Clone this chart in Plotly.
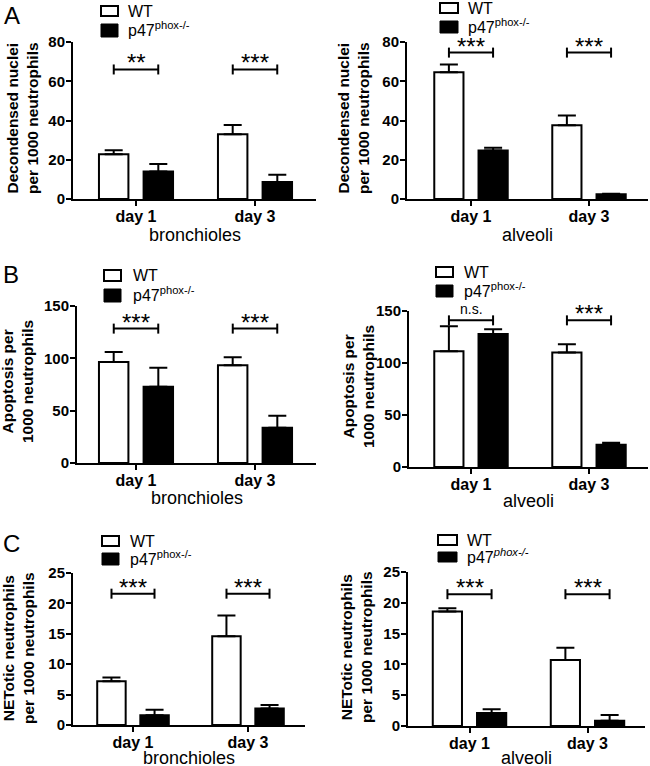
import plotly.graph_objects as go

W, H = 650, 766
FONT = "Liberation Sans, Arial, Helvetica, sans-serif"

# ---------------- data ----------------
categories = ["day 1", "day 3"]
series_names = ["WT", "p47<sup>phox-/-</sup>"]

# A: decondensed nuclei per 1000 neutrophils
a_bronch_wt = [22.8, 33.0]
a_bronch_wt_err = [2.1, 4.7]
a_bronch_ko = [14.0, 8.6]
a_bronch_ko_err = [3.8, 3.7]
a_alv_wt = [64.6, 37.6]
a_alv_wt_err = [3.9, 4.9]
a_alv_ko = [24.7, 2.4]
a_alv_ko_err = [1.4, 0.3]

# B: apoptosis per 1000 neutrophils
b_bronch_wt = [96.6, 93.4]
b_bronch_wt_err = [9.5, 7.6]
b_bronch_ko = [72.8, 33.7]
b_bronch_ko_err = [18.1, 11.4]
b_alv_wt = [111.4, 110.1]
b_alv_wt_err = [23.9, 8.0]
b_alv_ko = [128.0, 21.4]
b_alv_ko_err = [4.5, 1.9]

# C: NETotic neutrophils per 1000 neutrophils
c_bronch_wt = [7.2, 14.6]
c_bronch_wt_err = [0.6, 3.4]
c_bronch_ko = [1.6, 2.7]
c_bronch_ko_err = [0.9, 0.6]
c_alv_wt = [18.6, 10.7]
c_alv_wt_err = [0.5, 2.0]
c_alv_ko = [2.1, 0.87]
c_alv_ko_err = [0.6, 0.9]

# significance labels and bracket heights
a_bronch_sig = ["**", "***"]
a_bronch_sig_y = [66, 66]
a_alv_sig = ["***", "***"]
a_alv_sig_y = [74.6, 74.6]
b_bronch_sig = ["***", "***"]
b_bronch_sig_y = [128.4, 128.4]
b_alv_sig = ["n.s.", "***"]
b_alv_sig_y = [141, 141]
c_bronch_sig = ["***", "***"]
c_bronch_sig_y = [21.6, 21.6]
c_alv_sig = ["***", "***"]
c_alv_sig_y = [21.4, 21.4]

y_titles = {
    "A": "Decondensed nuclei<br>per 1000 neutrophils",
    "B": "Apoptosis per<br>1000 neutrophils",
    "C": "NETotic neutrophils<br>per 1000 neutrophils",
}
region_titles = ["bronchioles", "alveoli"]

# ---------------- layout geometry (pixels) ----------------
panels = [
    dict(wt=a_bronch_wt, wte=a_bronch_wt_err, ko=a_bronch_ko, koe=a_bronch_ko_err,
         sig=a_bronch_sig, sigy=a_bronch_sig_y, ymax=80, dtick=20, ytitle=y_titles["A"],
         region=region_titles[0], box=(73, 316, 42, 199), cats=(136, 255),
         ytx=22, yty=118, xty=235, leg=(101, 118, 6, 16, 24, 37, 126), letter="A", letpos=(12, 15),
         italic=False),
    dict(wt=a_alv_wt, wte=a_alv_wt_err, ko=a_alv_ko, koe=a_alv_ko_err,
         sig=a_alv_sig, sigy=a_alv_sig_y, ymax=80, dtick=20, ytitle=y_titles["A"],
         region=region_titles[1], box=(407, 648, 42, 199), cats=(471, 589),
         ytx=353, yty=118, xty=235, leg=(440, 458, 3, 13, 21, 33, 466), letter=None, letpos=None,
         italic=False),
    dict(wt=b_bronch_wt, wte=b_bronch_wt_err, ko=b_bronch_ko, koe=b_bronch_ko_err,
         sig=b_bronch_sig, sigy=b_bronch_sig_y, ymax=150, dtick=50, ytitle=y_titles["B"],
         region=region_titles[0], box=(77, 316, 306, 463), cats=(136, 255),
         ytx=18, yty=382, xty=498, leg=(104, 121, 270, 281, 289, 302, 131), letter="B", letpos=(11, 274),
         italic=False),
    dict(wt=b_alv_wt, wte=b_alv_wt_err, ko=b_alv_ko, koe=b_alv_ko_err,
         sig=b_alv_sig, sigy=b_alv_sig_y, ymax=150, dtick=50, ytitle=y_titles["B"],
         region=region_titles[1], box=(409, 648, 311, 467), cats=(471, 589),
         ytx=358, yty=387, xty=501, leg=(436, 453, 267, 277, 285, 297, 462), letter=None, letpos=None,
         italic=False),
    dict(wt=c_bronch_wt, wte=c_bronch_wt_err, ko=c_bronch_ko, koe=c_bronch_ko_err,
         sig=c_bronch_sig, sigy=c_bronch_sig_y, ymax=25, dtick=5, ytitle=y_titles["C"],
         region=region_titles[0], box=(73, 305, 573, 725), cats=(133, 248),
         ytx=18, yty=648, xty=758, leg=(102, 119, 536, 546, 553, 565, 128), letter="C", letpos=(11, 543),
         italic=False),
    dict(wt=c_alv_wt, wte=c_alv_wt_err, ko=c_alv_ko, koe=c_alv_ko_err,
         sig=c_alv_sig, sigy=c_alv_sig_y, ymax=25, dtick=5, ytitle=y_titles["C"],
         region=region_titles[1], box=(408, 645, 572, 726), cats=(469.5, 587.5),
         ytx=356, yty=647, xty=758, leg=(438, 457, 535, 545, 552, 562, 465), letter=None, letpos=None,
         italic=True),
]

BAR_HALF_OFFSET = 0.187  # half slot width in category units (bargap/bargroupgap below)


def px_x(p):
    return p / W


def px_y(p):
    return 1 - p / H


fig = go.Figure()
shapes = []
annotations = []
layout_axes = {}

for i, p in enumerate(panels, start=1):
    xa, ya = f"x{i}", f"y{i}"
    x0, x1, y0, y1 = p["box"]
    c1, c3 = p["cats"]
    spacing = c3 - c1
    xr = [-(c1 - x0) / spacing, 1 + (x1 - c3) / spacing]

    fig.add_trace(go.Bar(
        x=categories, y=p["wt"], xaxis=xa, yaxis=ya, name=series_names[0],
        marker=dict(color="white", line=dict(color="black", width=2)),
        error_y=dict(type="data", symmetric=False, array=p["wte"], arrayminus=[0, 0],
                     color="black", thickness=2, width=9),
        showlegend=False, hoverinfo="skip",
    ))
    fig.add_trace(go.Bar(
        x=categories, y=p["ko"], xaxis=xa, yaxis=ya, name=series_names[1],
        marker=dict(color="black", line=dict(color="black", width=2)),
        error_y=dict(type="data", symmetric=False, array=p["koe"], arrayminus=[0, 0],
                     color="black", thickness=2, width=9),
        showlegend=False, hoverinfo="skip",
    ))

    sfx = "" if i == 1 else str(i)
    layout_axes[f"xaxis{sfx}"] = dict(
        domain=[px_x(x0), px_x(x1)], range=xr, autorange=False, type="category", anchor=ya,
        showline=True, linecolor="black", linewidth=2, ticks="outside", ticklen=5,
        tickwidth=2, tickcolor="black", showgrid=False, zeroline=False, automargin=False,
        tickfont=dict(family=FONT, size=16, color="black", weight="bold"),
        ticklabelstandoff=-3,
        fixedrange=True,
    )
    layout_axes[f"yaxis{sfx}"] = dict(
        domain=[px_y(y1), px_y(y0)], range=[0, p["ymax"]], autorange=False, dtick=p["dtick"],
        anchor=xa, automargin=False,
        showline=True, linecolor="black", linewidth=2, ticks="outside", ticklen=5,
        tickwidth=2, tickcolor="black", showgrid=False, zeroline=False,
        tickfont=dict(family=FONT, size=15, color="black", weight="bold"),
        ticklabelstandoff=-2,
        fixedrange=True,
    )

    # significance brackets
    for k, (lab, hy) in enumerate(zip(p["sig"], p["sigy"])):
        xl, xr_ = k - BAR_HALF_OFFSET, k + BAR_HALF_OFFSET
        shapes.append(dict(type="line", xref=xa, yref=ya, x0=xl, x1=xr_, y0=hy, y1=hy,
                           line=dict(color="black", width=2)))
        for xx in (xl, xr_):
            shapes.append(dict(type="line", xref=xa, yref=ya, x0=xx, x1=xx,
                               ysizemode="pixel", yanchor=hy, y0=-5, y1=5,
                               line=dict(color="black", width=2)))
        if lab == "n.s.":
            annotations.append(dict(xref=xa, yref=ya, x=k, y=hy, yshift=1, yanchor="bottom",
                                    text=lab, showarrow=False,
                                    font=dict(family=FONT, size=14, color="black")))
        else:
            annotations.append(dict(xref=xa, yref=ya, x=k, y=hy, yshift=-9, yanchor="bottom",
                                    text=lab, showarrow=False,
                                    font=dict(family=FONT, size=24, color="black")))

    # y title
    annotations.append(dict(xref="paper", yref="paper", x=px_x(p["ytx"]), y=px_y(p["yty"]),
                            xanchor="center", yanchor="middle", textangle=-90,
                            text=f"<b>{p['ytitle']}</b>", showarrow=False,
                            font=dict(family=FONT, size=15.5, color="black")))
    # x title (region)
    annotations.append(dict(xref="paper", yref="paper", x=px_x((x0 + x1) / 2), y=px_y(p["xty"]),
                            xanchor="center", yanchor="middle", text=p["region"], showarrow=False,
                            font=dict(family=FONT, size=18, color="black")))

    # manual legend
    lx0, lx1, wy0, wy1, by0, by1, tx = p["leg"]
    shapes.append(dict(type="rect", xref="paper", yref="paper", x0=px_x(lx0), x1=px_x(lx1),
                       y0=px_y(wy1), y1=px_y(wy0), fillcolor="white",
                       line=dict(color="black", width=2)))
    shapes.append(dict(type="rect", xref="paper", yref="paper", x0=px_x(lx0), x1=px_x(lx1),
                       y0=px_y(by1), y1=px_y(by0), fillcolor="black",
                       line=dict(color="black", width=1)))
    annotations.append(dict(xref="paper", yref="paper", x=px_x(tx), y=px_y((wy0 + wy1) / 2),
                            xanchor="left", yanchor="middle", text=series_names[0], showarrow=False,
                            font=dict(family=FONT, size=16, color="black")))
    ko_name = series_names[1]
    if p["italic"]:
        ko_name = ko_name.replace("<sup>", "<sup><i>").replace("</sup>", "</i></sup>")
    annotations.append(dict(xref="paper", yref="paper", x=px_x(tx), y=px_y((by0 + by1) / 2 - 1),
                            xanchor="left", yanchor="middle", text=ko_name, showarrow=False,
                            font=dict(family=FONT, size=16, color="black")))

    if p["letter"]:
        lxp, lyp = p["letpos"]
        annotations.append(dict(xref="paper", yref="paper", x=px_x(lxp), y=px_y(lyp),
                                xanchor="center", yanchor="middle", text=p["letter"],
                                showarrow=False, font=dict(family=FONT, size=24, color="black")))

fig.update_layout(
    width=W, height=H, margin=dict(l=0, r=0, t=0, b=0, pad=0, autoexpand=False),
    paper_bgcolor="white", plot_bgcolor="white",
    barmode="group", bargap=0.25, bargroupgap=0.34,
    shapes=shapes, annotations=annotations,
    font=dict(family=FONT, color="black"),
    hovermode=False,
    **layout_axes,
)

fig.write_html("out.html", config={"displayModeBar": False, "staticPlot": True},
               post_script="document.body.style.margin='0px';")
